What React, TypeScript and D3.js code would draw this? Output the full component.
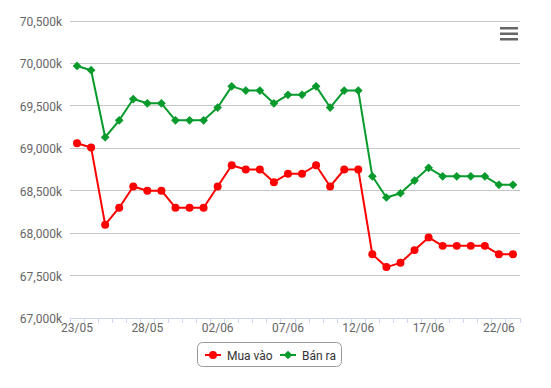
import React, { useEffect, useRef } from 'react';
import * as d3 from 'd3';

// ngày (trục x)
const dates = [
  '23/05', '24/05', '25/05', '26/05', '27/05', '28/05', '29/05', '30/05', '31/05',
  '01/06', '02/06', '03/06', '04/06', '05/06', '06/06', '07/06', '08/06', '09/06',
  '10/06', '11/06', '12/06', '13/06', '14/06', '15/06', '16/06', '17/06', '18/06',
  '19/06', '20/06', '21/06', '22/06', '23/06'
];

// giá mua vào (nghìn đồng)
const muaVao = [
  69060, 69010, 68100, 68300, 68550, 68500, 68500, 68300, 68300, 68300, 68550,
  68800, 68750, 68750, 68600, 68700, 68700, 68800, 68550, 68750, 68750,
  67750, 67600, 67650, 67800, 67950, 67850, 67850, 67850, 67850, 67750, 67750
];

// giá bán ra (nghìn đồng)
const banRa = [
  69970, 69920, 69130, 69330, 69580, 69530, 69530, 69330, 69330, 69330, 69480,
  69730, 69680, 69680, 69530, 69630, 69630, 69730, 69480, 69680, 69680,
  68670, 68420, 68470, 68620, 68770, 68670, 68670, 68670, 68670, 68570, 68570
];

const yTicks = [67000, 67500, 68000, 68500, 69000, 69500, 70000, 70500];

const seriesList = [
  { name: 'Mua vào', values: muaVao, color: '#ff0000', diamond: false },
  { name: 'Bán ra', values: banRa, color: '#079a2c', diamond: true },
];

const W = 551, H = 388;

const markerPath = (diamond: boolean) =>
  diamond
    ? d3.symbol().type(d3.symbolSquare).size(38)()
    : d3.symbol().type(d3.symbolCircle).size(50)();

const Chart = () => {
  const ref = useRef<SVGSVGElement>(null);

  useEffect(() => {
    const svg = d3.select(ref.current);
    svg.selectAll('*').remove();

    const x = d3.scaleBand().domain(dates).range([70, 520]);
    const y = d3.scaleLinear().domain([67000, 70500]).range([318, 21]);
    const cx = (d: string) => (x(d) as number) + x.bandwidth() / 2;
    const fmt = d3.format(',');

    // lưới ngang
    svg.append('g')
      .selectAll('line')
      .data(yTicks.slice(1))
      .enter().append('line')
      .attr('x1', 70).attr('x2', 520)
      .attr('y1', d => y(d)).attr('y2', d => y(d))
      .attr('stroke', '#c6c6c6').attr('stroke-width', 1)
      .attr('shape-rendering', 'crispEdges');

    // nhãn trục y
    svg.append('g')
      .selectAll('text')
      .data(yTicks)
      .enter().append('text')
      .attr('x', 62).attr('y', d => y(d) + 5)
      .attr('text-anchor', 'end')
      .attr('font-size', 12).attr('fill', '#666')
      .text(d => fmt(d) + 'k');

    // trục x
    const xAxis = d3.axisBottom(x)
      .tickSize(0)
      .tickFormat((d, i) => (i % 5 === 0 ? d : ''));
    const gx = svg.append('g').attr('transform', 'translate(0,318)').call(xAxis);
    gx.select('.domain').attr('stroke', '#ccd6eb');
    gx.selectAll('text').attr('font-size', 12).attr('fill', '#666')
      .attr('font-family', 'Roboto, sans-serif').attr('dy', '0.75em').attr('y', 5);

    // vạch chia giữa các ngày
    const bounds = dates.map(d => x(d) as number).concat([520]);
    svg.append('g')
      .selectAll('line')
      .data(bounds)
      .enter().append('line')
      .attr('x1', d => d).attr('x2', d => d)
      .attr('y1', 318).attr('y2', 323)
      .attr('stroke', '#ccd6eb')
      .attr('shape-rendering', 'crispEdges');

    // đường và điểm
    seriesList.forEach(s => {
      const line = d3.line<number>()
        .x((_, i) => cx(dates[i]))
        .y(d => y(d));
      svg.append('path')
        .datum(s.values)
        .attr('d', line)
        .attr('fill', 'none')
        .attr('stroke', s.color)
        .attr('stroke-width', 2)
        .attr('stroke-linejoin', 'round');
      svg.append('g')
        .selectAll('path')
        .data(s.values)
        .enter().append('path')
        .attr('d', markerPath(s.diamond))
        .attr('transform', (d, i) =>
          `translate(${cx(dates[i])},${y(d)})` + (s.diamond ? ' rotate(45)' : ''))
        .attr('fill', s.color);
    });

    // chú thích
    const lg = svg.append('g');
    lg.append('rect')
      .attr('x', 197.5).attr('y', 342.5).attr('width', 144).attr('height', 24)
      .attr('rx', 5).attr('fill', 'white').attr('stroke', '#999');
    const itemX = [205, 280];
    seriesList.forEach((s, i) => {
      const g = lg.append('g').attr('transform', `translate(${itemX[i]},355)`);
      g.append('line').attr('x1', 0).attr('x2', 16).attr('y1', 0).attr('y2', 0)
        .attr('stroke', s.color).attr('stroke-width', 2);
      g.append('path')
        .attr('d', markerPath(s.diamond))
        .attr('transform', 'translate(8,0)' + (s.diamond ? ' rotate(45)' : ''))
        .attr('fill', s.color);
      g.append('text').attr('x', 22).attr('y', 4.5)
        .attr('font-size', 12).attr('fill', '#333')
        .text(s.name);
    });

    // nút menu
    const menu = svg.append('g').attr('transform', 'translate(500,27)');
    [0, 5.5, 11].forEach(dy => {
      menu.append('rect').attr('x', 0).attr('y', dy).attr('width', 18).attr('height', 2.5)
        .attr('fill', '#666');
    });
  }, []);

  return (
    <svg ref={ref} width={W} height={H} style={{ display: 'block', fontFamily: 'Roboto, sans-serif' }} />
  );
};

export default function App() {
  return (
    <div style={{ position: 'absolute', left: 0, top: 0, background: 'white' }}>
      <Chart />
    </div>
  );
}
